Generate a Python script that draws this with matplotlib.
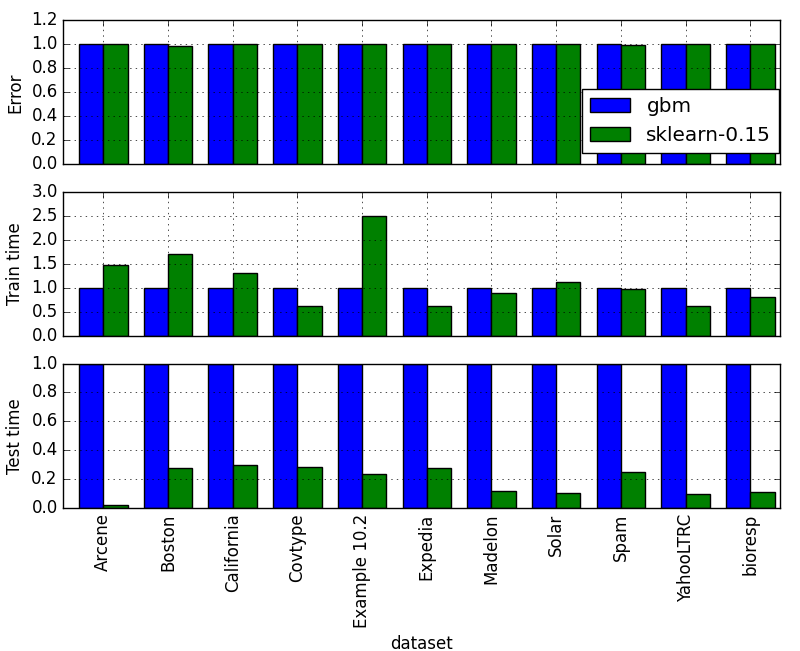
import numpy as np
import matplotlib
matplotlib.use("Agg")
import matplotlib.pyplot as plt

plt.style.use("classic")

# ==============================
# DATA
# ==============================
datasets = ["Arcene", "Boston", "California", "Covtype", "Example 10.2",
            "Expedia", "Madelon", "Solar", "Spam", "YahooLTRC", "bioresp"]
series = ["gbm", "sklearn-0.15"]

error_gbm = [1.0] * 11
error_sk = [1.0, 0.985, 1.0, 1.0, 1.0, 1.0, 1.0, 1.0, 0.993, 1.0, 1.0]

train_gbm = [1.0] * 11
train_sk = [1.476, 1.71, 1.32, 0.635, 2.505, 0.626, 0.906, 1.115, 0.975, 0.62, 0.814]

test_gbm = [1.0] * 11
test_sk = [0.018, 0.279, 0.30, 0.286, 0.237, 0.279, 0.116, 0.10, 0.246, 0.098, 0.112]

panels = [
    ("Error", error_gbm, error_sk, (0, 1.2)),
    ("Train time", train_gbm, train_sk, (0, 3.0)),
    ("Test time", test_gbm, test_sk, (0, 1.0)),
]

# ==============================
# PLOT
# ==============================
fig, axes = plt.subplots(3, 1, sharex=True, figsize=(8, 6.51), dpi=100)
fig.subplots_adjust(left=0.079, right=0.975, top=0.969, bottom=0.22, hspace=0.19)

x = np.arange(len(datasets))
w = 0.375

for ax, (label, gbm, sk, ylim) in zip(axes, panels):
    ax.bar(x - w, gbm, w, align="edge", color="b", edgecolor="k", label=series[0])
    ax.bar(x, sk, w, align="edge", color="g", edgecolor="k", label=series[1])
    ax.set_ylabel(label)
    ax.set_ylim(*ylim)
    ax.grid(True)
    ax.set_axisbelow(False)

# legend sits against the right edge, a little above the bottom
axes[0].legend(loc="lower right", bbox_to_anchor=(0.999, 0.076), borderaxespad=0)
axes[-1].set_xlim(-0.62, 10.46)
axes[-1].set_xticks(x)
axes[-1].set_xticklabels(datasets, rotation=90)
axes[-1].set_xlabel("dataset")

plt.savefig("out.png", dpi=100)
